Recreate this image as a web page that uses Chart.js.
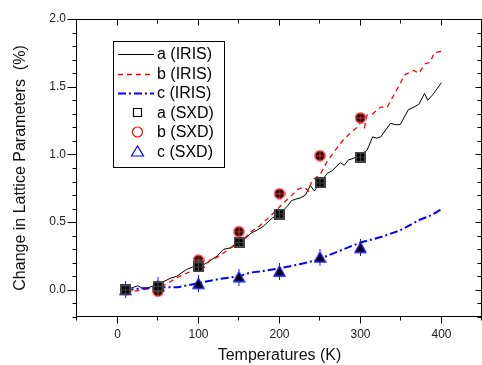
<!DOCTYPE html>
<html>
<head>
<meta charset="utf-8">
<script src="https://cdn.jsdelivr.net/npm/chart.js@4/dist/chart.umd.min.js"></script>
<style>
  html, body { margin: 0; padding: 0; background: #fff; }
  #wrap { width: 482px; height: 365px; position: relative; }
</style>
</head>
<body>
<div id="wrap"><canvas id="latticeChart"></canvas></div>
<script>
// IRIS curves: temperature (K) and change (%)
const irisTempA = [10, 20, 25, 30, 36, 48, 52, 60, 65, 73, 85, 93, 97, 102, 110, 123, 131, 139, 151, 160, 165, 172, 180, 191, 200, 210, 215, 220, 226, 232, 238, 243, 250, 259, 265, 275, 280, 285, 291, 300, 308, 315, 320, 325, 337, 343, 349, 359, 366, 372, 379, 383, 389, 400];
const irisA = [0, 0.02, 0.03, 0.015, 0.013, 0.037, 0.05, 0.07, 0.086, 0.1, 0.15, 0.17, 0.16, 0.17, 0.2, 0.25, 0.3, 0.31, 0.36, 0.39, 0.42, 0.44, 0.47, 0.53, 0.56, 0.62, 0.66, 0.67, 0.68, 0.7, 0.77, 0.73, 0.79, 0.86, 0.88, 0.94, 0.92, 0.96, 0.97, 1.0, 1.03, 1.13, 1.12, 1.13, 1.23, 1.22, 1.22, 1.33, 1.35, 1.37, 1.45, 1.40, 1.44, 1.53];

const irisTempB = [10, 20, 30, 40, 50, 60, 73, 86, 95, 100, 105, 114, 123, 135, 145, 155, 165, 175, 184, 193, 203, 212, 222, 230, 236, 240, 250, 259, 270, 279, 290, 296, 300, 305, 308, 315, 325, 333, 345, 355, 366, 372, 380, 386, 391, 399, 403];
const irisB = [0, -0.01, 0, 0.01, 0.02, 0.04, 0.09, 0.125, 0.15, 0.14, 0.15, 0.22, 0.24, 0.29, 0.33, 0.37, 0.43, 0.47, 0.52, 0.57, 0.63, 0.68, 0.74, 0.76, 0.73, 0.81, 0.85, 0.95, 1.04, 1.11, 1.17, 1.2, 1.24, 1.2, 1.29, 1.3, 1.35, 1.35, 1.48, 1.59, 1.62, 1.6, 1.67, 1.68, 1.75, 1.76, 1.75];

const irisTempC = [10, 30, 50, 75, 100, 125, 150, 164, 180, 201, 225, 246, 275, 300, 325, 349, 374, 387, 401];
const irisC = [0, 0.01, 0.02, 0.02, 0.05, 0.08, 0.1, 0.128, 0.14, 0.16, 0.19, 0.22, 0.29, 0.35, 0.39, 0.44, 0.52, 0.55, 0.6];

// SXD points
const sxdTemp = [10, 50, 100, 150, 200, 250, 300];
const sxdA = [0, 0.025, 0.17, 0.35, 0.56, 0.79, 0.98];
const sxdB = [0, -0.01, 0.22, 0.43, 0.71, 0.99, 1.27];
const sxdC = [0, 0.03, 0.045, 0.094, 0.135, 0.24, 0.31];

const FONT = "'Liberation Sans', Arial, sans-serif";
const toXY = (xs, ys) => xs.map((x, i) => ({ x, y: ys[i] }));

// filled marker images used on the plot
function markSquare() {
  const c = document.createElement('canvas');
  c.width = 11; c.height = 11;
  const g = c.getContext('2d');
  g.fillStyle = '#444';
  g.fillRect(0, 0, 11, 11);
  g.fillStyle = '#000';
  g.fillRect(2, 2, 3, 3); g.fillRect(6, 2, 3, 3);
  g.fillRect(2, 6, 3, 3); g.fillRect(6, 6, 3, 3);
  return c;
}
function markCircle() {
  const c = document.createElement('canvas');
  c.width = 12; c.height = 12;
  const g = c.getContext('2d');
  g.fillStyle = '#ff3b3b';
  g.beginPath(); g.arc(6, 6, 5.8, 0, Math.PI * 2); g.fill();
  g.fillStyle = '#000';
  g.beginPath(); g.arc(6, 6, 4.2, 0, Math.PI * 2); g.fill();
  g.strokeStyle = '#ff3b3b'; g.lineWidth = 1;
  g.beginPath(); g.moveTo(6, 1); g.lineTo(6, 11); g.moveTo(1, 6); g.lineTo(11, 6); g.stroke();
  return c;
}
function markTriangle() {
  const c = document.createElement('canvas');
  c.width = 13; c.height = 17;
  const g = c.getContext('2d');
  g.strokeStyle = '#1a1aff'; g.lineWidth = 1;
  g.beginPath(); g.moveTo(6.5, 0); g.lineTo(6.5, 17); g.stroke();
  g.fillStyle = '#000';
  g.lineWidth = 1.3;
  g.beginPath(); g.moveTo(6.5, 3); g.lineTo(1, 13); g.lineTo(12, 13); g.closePath();
  g.fill(); g.stroke();
  return c;
}

// frame box with mirrored ticks
const frameTicks = {
  id: 'frameTicks',
  afterDatasetsDraw(chart) {
    const { ctx, chartArea: a, scales: { x, y } } = chart;
    const L = a.left - 0.5, R = a.right - 0.5, T = a.top + 0.5, B = a.bottom - 0.5;
    ctx.save();
    ctx.strokeStyle = '#000';
    ctx.lineWidth = 1;
    ctx.beginPath();
    ctx.rect(L, T, R - L, B - T);
    y.ticks.forEach(t => {
      const p = Math.round(y.getPixelForValue(t.value)) + 0.5;
      const major = Math.round(t.value * 10) % 5 === 0;
      ctx.moveTo(L, p); ctx.lineTo(L - (major ? 9 : 4), p);
      ctx.moveTo(R, p); ctx.lineTo(R - (major ? 6 : 4), p);
    });
    x.ticks.forEach(t => {
      const p = Math.round(x.getPixelForValue(t.value)) - 0.5;
      const major = t.value % 100 === 0;
      ctx.moveTo(p, B); ctx.lineTo(p, B + (major ? 7 : 4));
      ctx.moveTo(p, T); ctx.lineTo(p, T + (major ? 6 : 4));
    });
    ctx.stroke();
    ctx.restore();
  }
};

// legend box inside plot area
const boxLegend = {
  id: 'boxLegend',
  afterDraw(chart) {
    const ctx = chart.ctx;
    const bx = 113.5, by = 41.5, bw = 111, bh = 126;
    ctx.save();
    ctx.fillStyle = '#fff';
    ctx.fillRect(bx, by, bw, bh);
    ctx.strokeStyle = '#000'; ctx.lineWidth = 1;
    ctx.strokeRect(bx, by, bw, bh);
    ctx.font = '16px ' + FONT;
    ctx.textBaseline = 'middle';
    chart.data.datasets.forEach((ds, i) => {
      const cy = 54 + i * 19.5;
      if (ds.showLine) {
        ctx.strokeStyle = ds.borderColor;
        ctx.lineWidth = ds.borderWidth;
        ctx.setLineDash(ds.borderDash || []);
        ctx.beginPath(); ctx.moveTo(118, Math.round(cy) + 0.5); ctx.lineTo(154, Math.round(cy) + 0.5); ctx.stroke();
        ctx.setLineDash([]);
      } else {
        ctx.strokeStyle = ds.legendColor;
        ctx.lineWidth = 1.2;
        ctx.beginPath();
        if (ds.legendShape === 'rect') ctx.rect(133.5, cy - 4, 8, 8);
        else if (ds.legendShape === 'circle') ctx.arc(137.5, cy, 5, 0, Math.PI * 2);
        else { ctx.moveTo(137.5, cy - 5.5); ctx.lineTo(131.5, cy + 4.5); ctx.lineTo(143.5, cy + 4.5); ctx.closePath(); }
        ctx.stroke();
      }
      ctx.fillStyle = '#000';
      ctx.fillText(ds.label, 157, cy + 1);
    });
    ctx.restore();
  }
};

new Chart(document.getElementById('latticeChart'), {
  type: 'scatter',
  data: {
    datasets: [
      { label: 'a (IRIS)', data: toXY(irisTempA, irisA), showLine: true, borderColor: '#000', borderWidth: 1, pointRadius: 0, order: 3 },
      { label: 'b (IRIS)', data: toXY(irisTempB, irisB), showLine: true, borderColor: '#ff0000', borderWidth: 1.3, borderDash: [5, 4], pointRadius: 0, order: 2 },
      { label: 'c (IRIS)', data: toXY(irisTempC, irisC), showLine: true, borderColor: '#0000ff', borderWidth: 2, borderDash: [8, 3, 2, 3], pointRadius: 0, order: 1 },
      { label: 'a (SXD)', data: toXY(sxdTemp, sxdA), pointStyle: markSquare(), legendShape: 'rect', legendColor: '#000', order: 0 },
      { label: 'b (SXD)', data: toXY(sxdTemp, sxdB), pointStyle: markCircle(), legendShape: 'circle', legendColor: '#ff0000', order: 0 },
      { label: 'c (SXD)', data: toXY(sxdTemp, sxdC), pointStyle: markTriangle(), legendShape: 'triangle', legendColor: '#0000ff', order: 0 }
    ]
  },
  options: {
    responsive: true,
    maintainAspectRatio: false,
    animation: false,
    layout: { autoPadding: false, padding: { top: 19, right: 0, left: 0, bottom: 0 } },
    elements: { line: { tension: 0, fill: false } },
    plugins: {
      legend: { display: false },
      tooltip: { enabled: false }
    },
    scales: {
      x: {
        type: 'linear',
        min: -50, max: 450,
        grid: { display: false, drawTicks: false },
        border: { display: false },
        ticks: {
          stepSize: 50, autoSkip: false, maxRotation: 0, padding: 10,
          color: '#222', font: { family: FONT, size: 12 },
          callback: v => (v % 100 === 0 && v >= 0 && v <= 400) ? String(v) : ''
        },
        title: { display: true, text: 'Temperatures (K)', color: '#111', font: { family: FONT, size: 16 }, padding: { top: 0, bottom: 0 } },
        afterFit: s => { s.height = 48; s.paddingLeft = 0; s.paddingRight = 0; }
      },
      y: {
        min: -0.2, max: 2.0,
        grid: { display: false, drawTicks: false },
        border: { display: false },
        ticks: {
          stepSize: 0.1, autoSkip: false, padding: 11,
          color: '#222', font: { family: FONT, size: 12 },
          callback: v => { const r = Math.round(v * 10); return r % 5 === 0 ? (r / 10).toFixed(1) : ''; }
        },
        title: { display: true, text: 'Change in Lattice Parameters  (%)', color: '#111', font: { family: FONT, size: 16 }, padding: { top: 11, bottom: 0 } },
        afterFit: s => { s.width = 77; }
      }
    }
  },
  plugins: [frameTicks, boxLegend]
});
</script>
</body>
</html>
